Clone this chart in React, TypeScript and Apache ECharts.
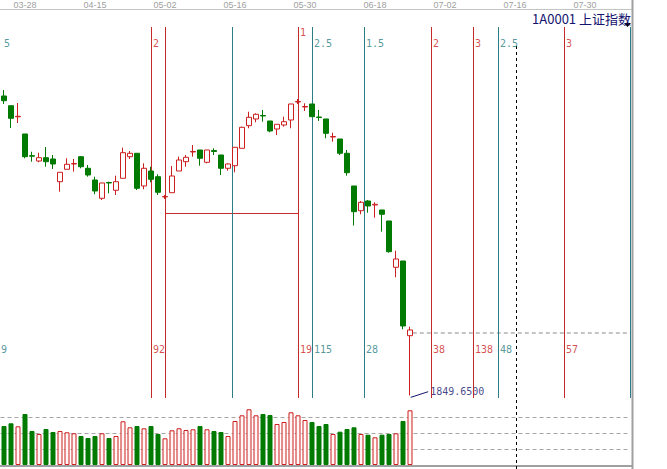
import React, { useEffect, useRef } from 'react';
import * as echarts from 'echarts';

// trading days (2013), incl. future empty days to the right edge
const dates = [
  '03-25','03-26','03-27','03-28','03-29','04-01','04-02','04-03','04-08','04-09',
  '04-10','04-11','04-12','04-15','04-16','04-17','04-18','04-19','04-22','04-23',
  '04-24','04-25','04-26','05-02','05-03','05-06','05-07','05-08','05-09','05-10',
  '05-13','05-14','05-15','05-16','05-17','05-20','05-21','05-22','05-23','05-24',
  '05-27','05-28','05-29','05-30','05-31','06-03','06-04','06-05','06-06','06-07',
  '06-13','06-14','06-17','06-18','06-19','06-20','06-21','06-24','06-25','06-26',
  '06-27','06-28','07-01','07-02','07-03','07-04','07-05','07-08','07-09','07-10',
  '07-11','07-12','07-15','07-16','07-17','07-18','07-19','07-22','07-23','07-24',
  '07-25','07-26','07-29','07-30','07-31','08-01','08-02','08-05','08-06','08-07'
];
const tickDates = ['03-28','04-15','05-02','05-16','05-30','06-18','07-02','07-16','07-30'];

const opens = [
  2339.29, 2323.43, 2305.28, 2277.16, 2241.68, 2233.01, 2238.41, 2236.28, 2199.17, 2219.44,
  2228.11, 2240.05, 2221.08, 2201.95, 2172.03, 2197.86, 2185.11, 2204.73, 2240.05, 2245.60,
  2192.14, 2216.66, 2207.35, 2174.32, 2181.19, 2216.66, 2231.87, 2247.73, 2251.00, 2230.89,
  2250.18, 2242.82, 2221.08, 2225.33, 2253.78, 2290.73, 2301.68, 2307.41, 2298.41, 2285.33,
  2291.87, 2300.05, 2329.48, 2321.30, 2326.21, 2304.95, 2301.68, 2272.25, 2268.98, 2245.60,
  2192.14, 2151.76, 2167.61, 2161.07, 2152.90, 2134.91, 2059.21, 2069.51, 1947.38
];
const closes = [
  2331.61, 2302.83, 2306.10, 2240.05, 2240.86, 2238.41, 2231.87, 2228.11, 2214.54, 2227.62,
  2228.93, 2223.70, 2210.12, 2183.96, 2197.04, 2197.04, 2199.17, 2246.59, 2245.60, 2188.38,
  2221.08, 2203.09, 2181.84, 2174.97, 2208.49, 2234.65, 2239.06, 2248.55, 2237.43, 2251.00,
  2248.55, 2221.08, 2228.11, 2255.41, 2288.11, 2304.46, 2309.37, 2306.59, 2282.06, 2293.02,
  2297.27, 2326.21, 2330.30, 2322.12, 2305.45, 2304.14, 2278.30, 2273.07, 2245.60, 2213.89,
  2150.12, 2165.49, 2159.44, 2162.22, 2145.87, 2084.72, 2072.78, 1963.24, 1956.70
];
const highs = [
  2349.10, 2323.43, 2327.84, 2277.16, 2248.22, 2246.59, 2255.90, 2242.82, 2214.54, 2237.43,
  2236.28, 2241.19, 2226.47, 2207.35, 2197.54, 2199.17, 2208.98, 2254.76, 2249.36, 2245.60,
  2229.25, 2223.70, 2211.27, 2177.42, 2224.84, 2240.05, 2242.82, 2259.17, 2251.00, 2251.00,
  2253.78, 2242.82, 2229.25, 2255.41, 2289.10, 2313.62, 2311.00, 2316.40, 2298.41, 2293.02,
  2305.45, 2326.21, 2334.38, 2327.35, 2326.21, 2316.40, 2301.68, 2279.29, 2268.98, 2251.00,
  2192.14, 2167.61, 2169.25, 2165.49, 2152.90, 2134.91, 2086.36, 2069.51, 1962.10
];
const lows = [
  2326.21, 2286.97, 2295.14, 2237.43, 2231.87, 2230.89, 2223.70, 2219.93, 2182.82, 2219.44,
  2215.52, 2221.08, 2207.35, 2178.57, 2169.25, 2180.20, 2177.42, 2204.73, 2236.28, 2185.60,
  2186.74, 2198.19, 2177.42, 2170.88, 2181.19, 2216.66, 2223.70, 2240.05, 2225.33, 2229.25,
  2242.82, 2210.12, 2217.16, 2214.54, 2253.78, 2286.48, 2296.29, 2297.27, 2279.94, 2275.52,
  2289.10, 2286.48, 2326.21, 2314.76, 2305.45, 2298.41, 2270.13, 2264.57, 2242.82, 2208.98,
  2127.56, 2145.87, 2148.49, 2140.31, 2117.42, 2083.09, 2042.86, 1957.84, 1849.65
];
const volumes = [
  121.9, 130.3, 120.9, 159.4, 106.3, 96.9, 112.5, 103.1, 106.3, 102.2,
  99.1, 90.6, 84.4, 90.6, 99.1, 84.4, 90.6, 136.6, 117.8, 121.9,
  114.7, 121.9, 96.9, 83.4, 108.4, 114.7, 109.4, 111.6, 121.9, 111.6,
  106.3, 103.1, 90.6, 137.5, 155.3, 174.1, 155.3, 159.4, 156.3, 128.1,
  134.4, 164.7, 155.3, 140.6, 134.4, 121.9, 128.1, 96.9, 104.1, 112.5,
  117.8, 96.9, 94.7, 86.6, 94.7, 96.9, 99.1, 137.5, 170.9
];

// time-cycle lines (position in trading days)
const redCycleX = [21, 23, 42, 61, 67, 80];
const tealCycleX = [32.57, 44, 51.43, 70.57, 89.43];
const topLabelX = [-0.3, 21, 42, 44, 51.43, 61, 67, 70.57, 80];
const topLabelText = ['5', '2', '1', '2.5', '1.5', '2', '3', '2.5', '3'];
const topLabelY = [2425.9, 2425.9, 2442.3, 2425.9, 2425.9, 2425.9, 2425.9, 2425.9, 2425.9];
const bottomLabelText = ['9', '92', '19', '115', '28', '38', '138', '48', '57'];
const labelIsTeal = [true, false, false, true, true, false, false, true, false];
const bottomLabelY = 1925.6;

const boxX = [23, 42];
const boxPrice = 2147.17;
const lastPriceX = [58.4, 89.5];
const lastPrice = 1951.8;
const pointerX = [58.1, 60.6];
const pointerY = [1846.5, 1855.8];
const lowValue = 1849.65;
const volumeGuides = [50, 100, 150];

const RED = '#cc1f1f';
const LINE_RED = '#c42a2a';
const GREEN = '#007a00';
const TEAL = '#2a7d84';
const NAVY = '#14146e';
const GREY = '#a6a6a6';
const MONO = '"DejaVu Sans Mono", monospace';

export default function App() {
  const ref = useRef<HTMLDivElement>(null);
  useEffect(() => {
    if (!ref.current) return;
    const chart = echarts.init(ref.current, null, { renderer: 'svg' });
    const candleData = opens.map((o, i) => [o, closes[i], lows[i], highs[i]]);
    const volData = volumes.map((v, i) => {
      const up = closes[i] >= opens[i];
      return {
        value: v,
        itemStyle: up
          ? { color: '#fff6f6', borderColor: RED, borderWidth: 1 }
          : { color: GREEN, borderColor: GREEN, borderWidth: 1 },
      };
    });
    const cycleLines = [
      ...redCycleX.map((x) => ({ xAxis: x, lineStyle: { color: LINE_RED, width: 1, type: 'solid' } })),
      ...tealCycleX.map((x) => ({ xAxis: x, lineStyle: { color: TEAL, width: 1, type: 'solid' } })),
    ];
    const labelData: any[] = [];
    topLabelX.forEach((x, i) => {
      const c = labelIsTeal[i] ? TEAL : RED;
      labelData.push({ value: [x, topLabelY[i]], name: topLabelText[i], label: { color: c } });
      labelData.push({
        value: [x, bottomLabelY],
        name: bottomLabelText[i],
        label: { color: c, offset: i === 0 ? [-3, 0] : [0, 0] },
      });
    });
    labelData.push({
      value: [pointerX[1], pointerY[1]],
      name: lowValue.toFixed(4),
      label: { color: NAVY },
    });

    const segment = (xs: number[], ys: number[], color: string, type: any, z: number) => ({
      type: 'line',
      xAxisIndex: 1,
      yAxisIndex: 0,
      data: xs.map((x, i) => [x, ys[i]]),
      symbol: 'none',
      silent: true,
      z,
      lineStyle: { color, width: 1, type },
      itemStyle: { color },
    });

    chart.setOption({
      animation: false,
      grid: [
        { left: 0.5, top: 27, width: 630, height: 371 },
        { left: 0.5, top: 398, width: 630, height: 67 },
      ],
      xAxis: [
        {
          type: 'category',
          gridIndex: 0,
          position: 'top',
          data: dates,
          boundaryGap: true,
          axisLine: { show: false },
          axisTick: { show: false },
          splitLine: { show: false },
          axisLabel: {
            interval: (_i: number, v: string) => tickDates.includes(v),
            color: '#a0a0a0',
            fontSize: 9,
            fontFamily: '"Liberation Sans", Arial, sans-serif',
            margin: 18,
          },
        },
        { type: 'value', gridIndex: 0, min: -0.5, max: 89.5, show: false },
        { type: 'category', gridIndex: 1, data: dates, boundaryGap: true, show: false },
      ],
      yAxis: [
        { type: 'value', gridIndex: 0, min: 1845.5, max: 2452.1, show: false },
        { type: 'value', gridIndex: 1, min: 0, max: 209.375, show: false },
      ],
      series: [
        {
          type: 'scatter',
          xAxisIndex: 1,
          yAxisIndex: 0,
          symbolSize: 0,
          silent: true,
          z: 2,
          itemStyle: { color: LINE_RED },
          data: labelData,
          label: {
            show: true,
            position: 'right',
            distance: 2,
            formatter: (p: any) => p.name,
            fontSize: 10,
            fontFamily: MONO,
          },
          markLine: {
            silent: true,
            symbol: ['none', 'none'],
            label: { show: false },
            data: cycleLines,
          },
        },
        segment(boxX, [boxPrice, boxPrice], LINE_RED, 'solid', 3),
        segment(lastPriceX, [lastPrice, lastPrice], '#8a8a8a', [4, 3], 3),
        segment(pointerX, pointerY, NAVY, 'solid', 3),
        {
          type: 'candlestick',
          xAxisIndex: 0,
          yAxisIndex: 0,
          z: 5,
          barWidth: 5,
          data: candleData,
          itemStyle: {
            color: '#ffffff',
            color0: GREEN,
            borderColor: RED,
            borderColor0: GREEN,
            borderWidth: 1,
          },
        },
        {
          type: 'bar',
          xAxisIndex: 2,
          yAxisIndex: 1,
          barWidth: 5,
          z: 5,
          data: volData,
          markLine: {
            silent: true,
            symbol: ['none', 'none'],
            label: { show: false },
            lineStyle: { color: GREY, width: 1, type: [4, 3] },
            data: [...volumeGuides.map((v) => ({ yAxis: v })), { yAxis: 209.375 }],
          },
        },
      ],
      graphic: [
        { type: 'line', silent: true, shape: { x1: 0, y1: 9.5, x2: 632, y2: 9.5 }, style: { stroke: '#c4c4c4', lineWidth: 1 } },
        { type: 'line', silent: true, shape: { x1: 632.5, y1: 0, x2: 632.5, y2: 469 }, style: { stroke: '#a0a0a0', lineWidth: 2 } },
        { type: 'line', silent: true, shape: { x1: 0, y1: 466, x2: 632, y2: 466 }, style: { stroke: '#a0a0a0', lineWidth: 2 } },
        { type: 'line', silent: true, shape: { x1: 516.5, y1: 46, x2: 516.5, y2: 469 }, style: { stroke: '#000', lineWidth: 1, lineDash: [3, 3] } },
        { type: 'polygon', silent: true, shape: { points: [[624, 23], [631, 23], [627.5, 27]] }, style: { fill: '#000' } },
        {
          type: 'text',
          silent: true,
          x: 631,
          y: 18,
          style: {
            text: '1A0001 上证指数',
            align: 'right',
            verticalAlign: 'middle',
            fill: NAVY,
            font: '13px "Noto Sans CJK SC", sans-serif',
          },
        },
      ],
    });
    return () => chart.dispose();
  }, []);
  return (
    <div
      ref={ref}
      style={{ position: 'fixed', left: 0, top: 0, width: 667, height: 469, background: '#fff' }}
    />
  );
}
